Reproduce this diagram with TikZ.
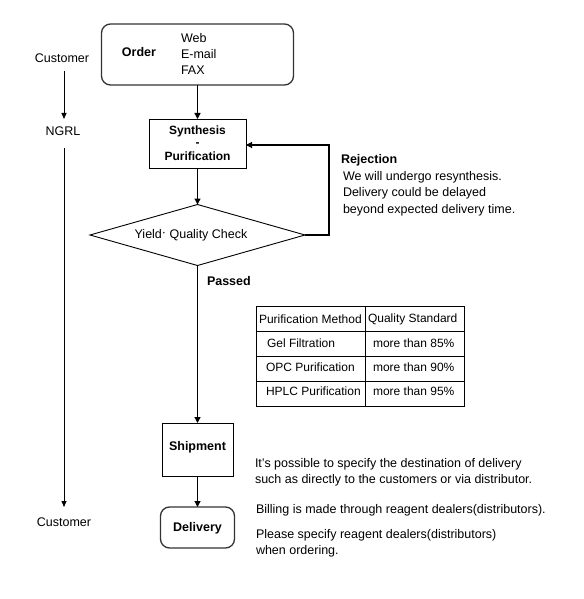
\documentclass[tikz,border=0pt]{standalone}
\usepackage{fontspec}
\setmainfont{Liberation Sans}
\usetikzlibrary{arrows.meta,shapes.geometric}
\begin{document}
\begin{tikzpicture}[x=1pt,y=-1pt,
  every node/.style={inner sep=0pt, outer sep=0pt},
  txt/.style={font=\fontsize{12.5}{16}\selectfont, align=left},
  tbltxt/.style={font=\fontsize{12}{14}\selectfont, anchor=west},
  lbl/.style={font=\fontsize{12.5}{16}\selectfont\bfseries},
  sqbox/.style={draw, line width=0.9pt},
  rbox/.style={draw=black!80, line width=1.3pt, rounded corners=9pt},
  flow/.style={line width=1.3pt, -{Triangle[length=6pt,width=6pt]}},
  side/.style={line width=0.8pt, -{Triangle[length=6pt,width=5pt]}},
  plain/.style={line width=1.1pt},
  grid/.style={line width=0.7pt}]
\path[use as bounding box, fill=white] (0,0) rectangle (583,599);

% left column
\node[txt] (cust1) at (62,58) {Customer};
\node[txt] (ngrl) at (63,131) {NGRL};
\node[txt] (cust2) at (64,522) {Customer};
\draw[side] (64,71) coordinate (c1s) -- (64,119) coordinate (c1e);
\draw[side] (64,148) coordinate (c2s) -- (64,507) coordinate (c2e);

% order
\node[rbox, minimum width=192pt, minimum height=61pt] (order) at (197.5,54.5) {};
\node[lbl] (ordlbl) at (139,52) {Order};
\node[txt, anchor=west] (media) at (181,54) {Web\\E-mail\\FAX};

% synthesis
\node[sqbox, minimum width=97pt, minimum height=49pt] (synth) at (197.5,143.5) {};
\node[lbl, font=\fontsize{12}{14}\selectfont\bfseries] (synthA) at (197.5,131.5) {Synthesis};
\node[lbl, font=\fontsize{12}{14}\selectfont\bfseries] (synthB) at (197.5,144.5) {-};
\node[lbl, font=\fontsize{12}{14}\selectfont\bfseries] (synthC) at (197.5,156) {Purification};

% check
\node[draw, line width=0.9pt, shape=diamond, aspect=3.5, minimum width=215pt, minimum height=61pt] (check) at (197.5,235) {};
\node[txt] (checklbl) at (191,235) {Yield\raisebox{1.5pt}{·} Quality Check};

% shipment & delivery
\node[sqbox, minimum width=71pt, minimum height=53pt] (ship) at (197.5,449.5) {};
\node[lbl] (shiplbl) at (197.5,447) {Shipment};
\node[rbox, minimum width=74pt, minimum height=41pt] (deliv) at (197.5,527.5) {};
\node[lbl] (delivlbl) at (197.5,528) {Delivery};

% flow arrows
\draw[flow] (order.south) -- (synth.north);
\draw[flow] (synth.south) -- (check.north);
\draw[flow] (check.south) -- (ship.north);
\draw[flow] (ship.south) -- (deliv.north);
\coordinate (rj) at (329,145);
\draw[plain, -{Triangle[length=6pt,width=6pt]}] (check.east) -| (rj) -- (rj -| synth.east);

% labels
\node[lbl, anchor=west] (passed) at (207,281) {Passed};
\node[lbl, anchor=west] (rej) at (341,160) {Rejection};
\node[txt, anchor=north west, font=\fontsize{12.5}{16.5}\selectfont] (rejtxt) at (343,171) {We will undergo resynthesis.\\Delivery could be delayed\\beyond expected delivery time.};

% table
\node[draw, grid, minimum width=208pt, minimum height=100pt] (tbl) at (360,356) {};
\draw[grid] (tbl.north west) ++(0,25) -- ++(208,0);
\draw[grid] (tbl.north west) ++(0,50) -- ++(208,0);
\draw[grid] (tbl.north west) ++(0,75) -- ++(208,0);
\draw[grid] (365,306) -- (365,406);
\node[tbltxt] (h1) at (259,319) {Purification Method};
\node[tbltxt] (h2) at (368,319) {Quality Standard};
\node[tbltxt] (r1a) at (267,343) {Gel Filtration};
\node[tbltxt] (r1b) at (373,343) {more than 85\%};
\node[tbltxt] (r2a) at (266,367) {OPC Purification};
\node[tbltxt] (r2b) at (373,367) {more than 90\%};
\node[tbltxt] (r3a) at (266,391) {HPLC Purification};
\node[tbltxt] (r3b) at (373,391) {more than 95\%};

% notes
\node[txt, anchor=west] (note1) at (255,472) {It’s possible to specify the destination of delivery\\such as directly to the customers or via distributor.};
\node[txt, anchor=west] (note2) at (256,510) {Billing is made through reagent dealers(distributors).};
\node[txt, anchor=west] (note3) at (256,543.5) {Please specify reagent dealers(distributors)\\when ordering.};
\end{tikzpicture}
\end{document}
